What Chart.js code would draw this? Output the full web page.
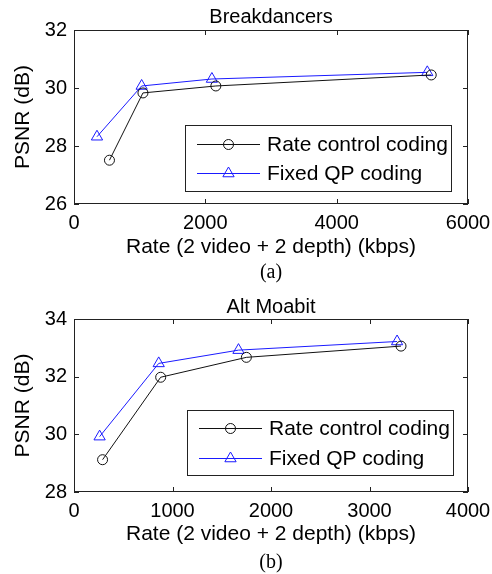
<!DOCTYPE html>
<html>
<head>
<meta charset="utf-8">
<script src="https://cdn.jsdelivr.net/npm/chart.js@4.4.0/dist/chart.umd.min.js"></script>
<style>
  html, body { margin: 0; padding: 0; background: #fff; }
  canvas { display: block; }
</style>
</head>
<body>
<canvas id="ChartA" width="492" height="287"></canvas>
<canvas id="ChartB" width="492" height="287"></canvas>
<script>
// (a) Breakdancers
const breakRateCtrlX = [540, 1050, 2160, 5440];
const breakRateCtrlY = [27.51, 29.83, 30.07, 30.45];
const breakFixedQpX = [350, 1030, 2100, 5380];
const breakFixedQpY = [28.32, 30.07, 30.31, 30.54];
const breakXTicks = [0, 2000, 4000, 6000];
const breakYTicks = [26, 28, 30, 32];

// (b) Alt Moabit
const altRateCtrlX = [290, 880, 1750, 3320];
const altRateCtrlY = [29.12, 31.98, 32.67, 33.06];
const altFixedQpX = [260, 860, 1670, 3280];
const altFixedQpY = [29.92, 32.46, 32.92, 33.22];
const altXTicks = [0, 1000, 2000, 3000, 4000];
const altYTicks = [28, 30, 32, 34];

const seriesNames = ["Rate control coding", "Fixed QP coding"];
const xLabel = "Rate (2 video + 2 depth) (kbps)";
const yLabel = "PSNR (dB)";

const FONT = '"Liberation Sans", Arial, sans-serif';

function toPoints(xs, ys) {
  return xs.map((x, i) => ({ x: x, y: ys[i] }));
}

// box, inward ticks, title, inside legend and caption
const matlabFrame = {
  id: "matlabFrame",
  afterDraw(chart, args, opts) {
    const ctx = chart.ctx;
    const a = chart.chartArea;
    const xs = chart.scales.x;
    const ys = chart.scales.y;
    ctx.save();

    ctx.strokeStyle = "#222";
    ctx.lineWidth = 1;
    ctx.strokeRect(Math.round(a.left) + 0.5, Math.round(a.top) + 0.5,
      Math.round(a.right - a.left) - 1, Math.round(a.bottom - a.top) - 1);

    const tl = 5;
    ctx.beginPath();
    opts.xTicks.forEach(v => {
      const px = Math.round(xs.getPixelForValue(v)) + 0.5;
      ctx.moveTo(px, a.bottom); ctx.lineTo(px, a.bottom - tl);
      ctx.moveTo(px, a.top); ctx.lineTo(px, a.top + tl);
    });
    opts.yTicks.forEach(v => {
      const py = Math.round(ys.getPixelForValue(v)) + 0.5;
      ctx.moveTo(a.left, py); ctx.lineTo(a.left + tl, py);
      ctx.moveTo(a.right, py); ctx.lineTo(a.right - tl, py);
    });
    ctx.stroke();

    // title
    ctx.fillStyle = "#000";
    ctx.font = "20px " + FONT;
    ctx.textAlign = "center";
    ctx.textBaseline = "middle";
    ctx.fillText(opts.title, (a.left + a.right) / 2, opts.titleY);

    // legend
    const lg = opts.legend;
    const bx = a.right - lg.right - lg.width;
    const by = a.bottom - lg.bottom - lg.height;
    ctx.fillStyle = "#fff";
    ctx.fillRect(bx, by, lg.width, lg.height);
    ctx.strokeStyle = "#222";
    ctx.strokeRect(Math.round(bx) + 0.5, Math.round(by) + 0.5, lg.width, lg.height);

    chart.data.datasets.forEach((ds, i) => {
      const ry = Math.round(by + lg.rows[i]) + 0.5;
      const x0 = bx + 12, x1 = bx + 75, mx = (x0 + x1) / 2;
      ctx.strokeStyle = ds.borderColor;
      ctx.lineWidth = 1;
      ctx.beginPath();
      ctx.moveTo(x0, ry); ctx.lineTo(x1, ry);
      ctx.stroke();
      ctx.fillStyle = "rgba(0,0,0,0)";
      Chart.helpers.drawPoint(ctx, {
        pointStyle: ds.pointStyle, radius: ds.pointRadius,
        borderWidth: 1, rotation: 0
      }, mx, ry);
      ctx.fillStyle = "#000";
      ctx.font = "21px " + FONT;
      ctx.textAlign = "left";
      ctx.textBaseline = "middle";
      ctx.fillText(ds.label, bx + 82, ry + 1);
    });

    // caption
    ctx.fillStyle = "#000";
    ctx.font = '20px "Liberation Serif", "Times New Roman", serif';
    ctx.textAlign = "center";
    ctx.textBaseline = "middle";
    ctx.fillText(opts.caption, (a.left + a.right) / 2, opts.captionY);

    ctx.restore();
  }
};

function makeChart(canvasId, cfg) {
  const canvas = document.getElementById(canvasId);
  if (!canvas) {
    console.error(canvasId + " canvas not found");
    return null;
  }
  const ctx = canvas.getContext("2d");

  return new Chart(ctx, {
    type: "scatter",
    data: {
      datasets: [
        {
          label: seriesNames[0],
          data: toPoints(cfg.rcX, cfg.rcY),
          showLine: true,
          borderColor: "#111",
          backgroundColor: "rgba(0,0,0,0)",
          borderWidth: 1,
          pointStyle: "circle",
          pointRadius: 5,
          pointBorderWidth: 1
        },
        {
          label: seriesNames[1],
          data: toPoints(cfg.fqX, cfg.fqY),
          showLine: true,
          borderColor: "#1a1aff",
          backgroundColor: "rgba(0,0,0,0)",
          borderWidth: 1,
          pointStyle: "triangle",
          pointRadius: 6.5,
          pointBorderWidth: 1
        }
      ]
    },
    options: {
      responsive: false,
      animation: false,
      layout: {
        padding: { left: 0, right: 24, top: cfg.plotTop, bottom: 25 }
      },
      plugins: {
        legend: { display: false },
        tooltip: { enabled: false },
        matlabFrame: {
          title: cfg.title,
          titleY: cfg.titleY,
          caption: cfg.caption,
          captionY: cfg.captionY,
          xTicks: cfg.xTicks,
          yTicks: cfg.yTicks,
          legend: cfg.legend
        }
      },
      scales: {
        x: {
          type: "linear",
          min: cfg.xTicks[0],
          max: cfg.xTicks[cfg.xTicks.length - 1],
          afterBuildTicks: (s) => { s.ticks = cfg.xTicks.map(v => ({ value: v })); },
          afterFit: (s) => {
            s.height = 287 - 25 - cfg.plotBottom;
            s.paddingLeft = 0;
            s.paddingRight = 0;
          },
          grid: { display: false, drawTicks: false },
          border: { display: false },
          ticks: {
            color: "#000",
            padding: 7,
            maxRotation: 0,
            font: { family: FONT, size: 20 },
            callback: (v) => String(v)
          },
          title: {
            display: true,
            text: xLabel,
            color: "#000",
            padding: { top: 0, bottom: 2 },
            font: { family: FONT, size: 21 }
          }
        },
        y: {
          type: "linear",
          min: cfg.yTicks[0],
          max: cfg.yTicks[cfg.yTicks.length - 1],
          afterBuildTicks: (s) => { s.ticks = cfg.yTicks.map(v => ({ value: v })); },
          afterFit: (s) => {
            s.width = 74;
            s.paddingTop = 0;
            s.paddingBottom = 0;
          },
          grid: { display: false, drawTicks: false },
          border: { display: false },
          ticks: {
            color: "#000",
            padding: 7,
            font: { family: FONT, size: 20 },
            callback: (v) => String(v)
          },
          title: {
            display: true,
            text: yLabel,
            color: "#000",
            padding: { top: 11, bottom: 0 },
            font: { family: FONT, size: 21 }
          }
        }
      }
    },
    plugins: [matlabFrame]
  });
}

makeChart("ChartA", {
  rcX: breakRateCtrlX, rcY: breakRateCtrlY,
  fqX: breakFixedQpX, fqY: breakFixedQpY,
  xTicks: breakXTicks, yTicks: breakYTicks,
  title: "Breakdancers", titleY: 17,
  caption: "(a)", captionY: 273,
  plotTop: 30, plotBottom: 204,
  legend: { width: 266, height: 66, right: 17, bottom: 13, rows: [19, 48] }
});

makeChart("ChartB", {
  rcX: altRateCtrlX, rcY: altRateCtrlY,
  fqX: altFixedQpX, fqY: altFixedQpY,
  xTicks: altXTicks, yTicks: altYTicks,
  title: "Alt Moabit", titleY: 20,
  caption: "(b)", captionY: 276,
  plotTop: 32, plotBottom: 205,
  legend: { width: 266, height: 65, right: 15, bottom: 17, rows: [18, 48] }
});
</script>
</body>
</html>
